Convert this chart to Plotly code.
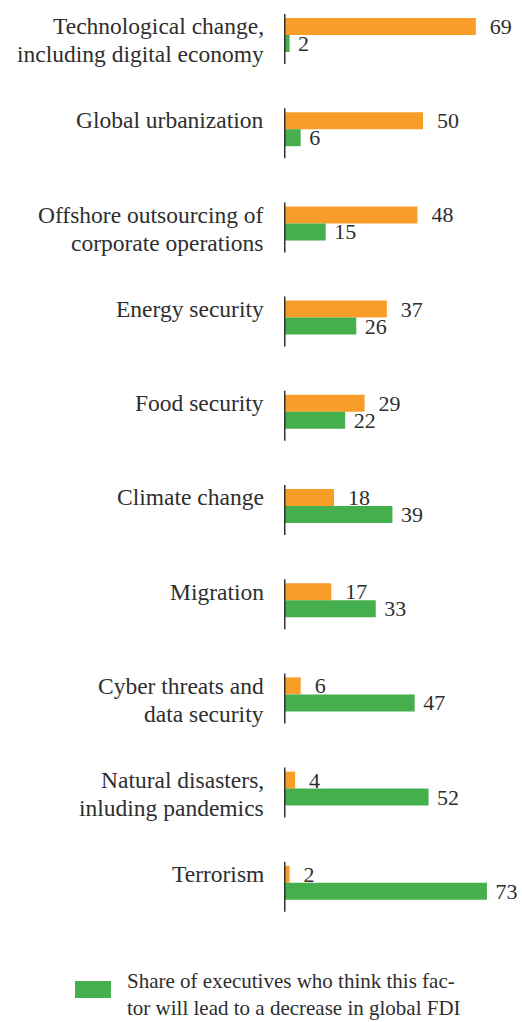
import plotly.graph_objects as go

# ---- data ----
factors = [
    "Technological change,<br>including digital economy",
    "Global urbanization",
    "Offshore outsourcing of<br>corporate operations",
    "Energy security",
    "Food security",
    "Climate change",
    "Migration",
    "Cyber threats and<br>data security",
    "Natural disasters,<br>inluding pandemics",
    "Terrorism",
]
increase = [69, 50, 48, 37, 29, 18, 17, 6, 4, 2]
decrease = [2, 6, 15, 26, 22, 39, 33, 47, 52, 73]
legend_decrease = "Share of executives who think this fac-<br>tor will lead to a decrease in global FDI"

# ---- styles ----
ORANGE = "#F89D28"
GREEN = "#45AF4E"
TEXT = "#2e2e2e"
FONT = "Liberation Serif"

W, H = 522, 1022
ML, MT, MB = 284, 0, 82
PLOT_H = H - MT - MB
PLOT_W = W - ML
STEP = 94.2      # px per category
FIRST = 35       # px of first category centre
PX_PER_UNIT = 2.78
LABEL_SIZE = 23.5
LINE_GAP = 28

fig = go.Figure()
fig.add_bar(
    y=list(range(len(factors))), x=increase, orientation="h",
    marker=dict(color=ORANGE, line=dict(width=0)),
    text=increase, texttemplate="  %{x}", textposition="outside",
    constraintext="none", cliponaxis=False,
    textfont=dict(family=FONT, size=22, color=TEXT),
    showlegend=False, hoverinfo="skip",
)
fig.add_bar(
    y=list(range(len(factors))), x=decrease, orientation="h",
    marker=dict(color=GREEN, line=dict(width=0)),
    text=decrease, texttemplate=" %{x}", textposition="outside",
    constraintext="none", cliponaxis=False,
    textfont=dict(family=FONT, size=22, color=TEXT),
    showlegend=False, hoverinfo="skip",
)

shapes = []
annotations = []
for i, name in enumerate(factors):
    shapes.append(dict(type="line", xref="x", yref="y", x0=0, x1=0,
                       y0=i - 0.223, y1=i + 0.308,
                       line=dict(color="#333333", width=3), layer="above"))
    for k, line in enumerate(name.split("<br>")):
        annotations.append(dict(x=0, y=i, xref="x", yref="y", xanchor="right",
                                yanchor="middle", xshift=-18,
                                yshift=8.7 - k * LINE_GAP, text=line,
                                align="right", showarrow=False,
                                font=dict(family=FONT, size=LABEL_SIZE, color=TEXT)))

# legend (manual, large swatch)
def px_x(px):
    return (px - ML) / PLOT_W

def px_y(py):
    return (MT + PLOT_H - py) / PLOT_H

shapes.append(dict(type="rect", xref="paper", yref="paper",
                   x0=px_x(75), x1=px_x(111), y0=px_y(998), y1=px_y(981),
                   fillcolor=GREEN, line=dict(width=0)))
annotations.append(dict(x=px_x(125), y=px_y(994), xref="paper", yref="paper",
                        xanchor="left", yanchor="middle", text=legend_decrease,
                        align="left", showarrow=False,
                        font=dict(family=FONT, size=21, color=TEXT)))

y_top = -FIRST / STEP
y_bot = (PLOT_H - FIRST) / STEP

fig.update_layout(
    width=W, height=H,
    margin=dict(l=ML, r=0, t=MT, b=MB, pad=0),
    paper_bgcolor="white", plot_bgcolor="white",
    barmode="group", bargap=1 - 34 / STEP, bargroupgap=0,
    xaxis=dict(range=[0, PLOT_W / PX_PER_UNIT], visible=False, fixedrange=True),
    yaxis=dict(range=[y_bot, y_top], showticklabels=False, showgrid=False,
               zeroline=False, showline=False, ticks="", fixedrange=True),
    shapes=shapes, annotations=annotations,
    showlegend=False,
)

fig.write_html("out.html")
